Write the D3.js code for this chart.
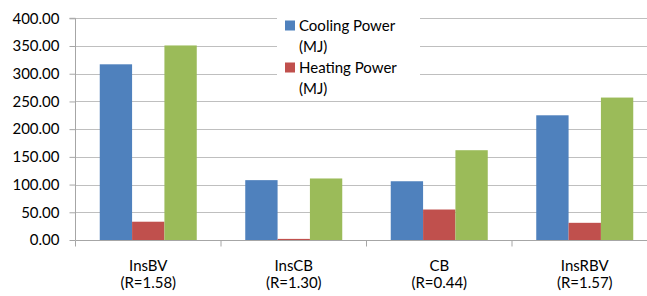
<!DOCTYPE html>
<html>
<head>
<meta charset="utf-8">
<script src="https://cdn.jsdelivr.net/npm/d3@7"></script>
<style>
  body { margin: 0; background: #fff; }
  text { font-family: Lato, sans-serif; font-size: 15px; fill: #000; }
</style>
</head>
<body>
<div id="container"></div>
<script>
// chart data
const categories = ['InsBV', 'InsCB', 'CB', 'InsRBV'];
const ratios = ['(R=1.58)', '(R=1.30)', '(R=0.44)', '(R=1.57)'];
const cooling = [317, 108, 106, 225];
const heating = [33, 2, 55, 31];
const third = [351, 111, 162, 257];
const seriesNames = ['Cooling Power (MJ)', 'Heating Power (MJ)'];
const yTicks = [0, 50, 100, 150, 200, 250, 300, 350, 400];

const colors = ['#4f81bd', '#c0504d', '#9bbb59'];
const series = [cooling, heating, third];

// svg dimensions
const w = 647;
const h = 296;

const svg = d3.select('#container')
                .append('svg')
                .attr('width', w)
                .attr('height', h);

// scales
const xScale = d3.scaleBand()
                .domain(categories)
                .range([75.5, 657.5]);

const yScale = d3.scaleLinear()
                .domain([0, 400])
                .range([240, 18.3]);

const barW = xScale.bandwidth() / 4.5;

// gridlines
svg.append('g')
    .selectAll('line')
    .data(yTicks.filter(d => d > 0))
    .enter()
    .append('line')
    .attr('x1', 75.5)
    .attr('x2', w)
    .attr('y1', d => Math.round(yScale(d)) + 0.5)
    .attr('y2', d => Math.round(yScale(d)) + 0.5)
    .attr('stroke', '#bfbfbf')
    .attr('stroke-width', 1.2);

// y axis
const yAxis = d3.axisLeft(yScale)
                .tickValues(yTicks)
                .tickSize(6)
                .tickPadding(10)
                .tickFormat(d3.format('.2f'));

const yG = svg.append('g')
    .attr('transform', 'translate(75.5, 0)')
    .call(yAxis);
yG.select('.domain').attr('stroke', '#a6a6a6').attr('d', `M-6,${yScale(400)}H0V${yScale(0)}`);
yG.selectAll('.tick line').attr('stroke', '#a6a6a6');
yG.selectAll('.tick text').style('font-size', '15px').style('font-family', 'Lato, sans-serif');

// bars
categories.forEach((c, i) => {
    series.forEach((s, j) => {
        const x0 = xScale(c) + xScale.bandwidth() / 2 - 1.5 * barW + j * barW;
        svg.append('rect')
            .attr('x', x0)
            .attr('y', yScale(s[i]))
            .attr('width', barW)
            .attr('height', yScale(0) - yScale(s[i]))
            .attr('fill', colors[j]);
    });
});

// x axis
const xG = svg.append('g');
xG.append('line')
    .attr('x1', 75.5).attr('x2', w)
    .attr('y1', 240.5).attr('y2', 240.5)
    .attr('stroke', '#a6a6a6');
xG.selectAll('.xtick')
    .data(categories)
    .enter()
    .append('line')
    .attr('x1', d => xScale(d))
    .attr('x2', d => xScale(d))
    .attr('y1', 240.5)
    .attr('y2', 246.5)
    .attr('stroke', '#a6a6a6');

const labels = xG.selectAll('.xlab')
    .data(categories)
    .enter()
    .append('text')
    .attr('text-anchor', 'middle')
    .attr('x', d => xScale(d) + xScale.bandwidth() / 2);
labels.append('tspan')
    .attr('y', 270.5)
    .attr('x', d => xScale(d) + xScale.bandwidth() / 2)
    .text(d => d);
labels.append('tspan')
    .attr('y', 288)
    .attr('x', d => xScale(d) + xScale.bandwidth() / 2)
    .text((d, i) => ratios[i]);

// legend
const legend = svg.append('g');
legend.append('rect')
    .attr('x', 277)
    .attr('y', 4)
    .attr('width', 143)
    .attr('height', 94)
    .attr('fill', '#fff');

seriesNames.forEach((name, i) => {
    const y0 = 30.5 + i * 42;
    legend.append('rect')
        .attr('x', 285)
        .attr('y', y0 - 10)
        .attr('width', 10)
        .attr('height', 10)
        .attr('fill', colors[i]);
    const parts = name.split(' (');
    legend.append('text')
        .attr('x', 299)
        .attr('y', y0)
        .text(parts[0]);
    legend.append('text')
        .attr('x', 299)
        .attr('y', y0 + 21)
        .text('(' + parts[1]);
});
</script>
</body>
</html>
